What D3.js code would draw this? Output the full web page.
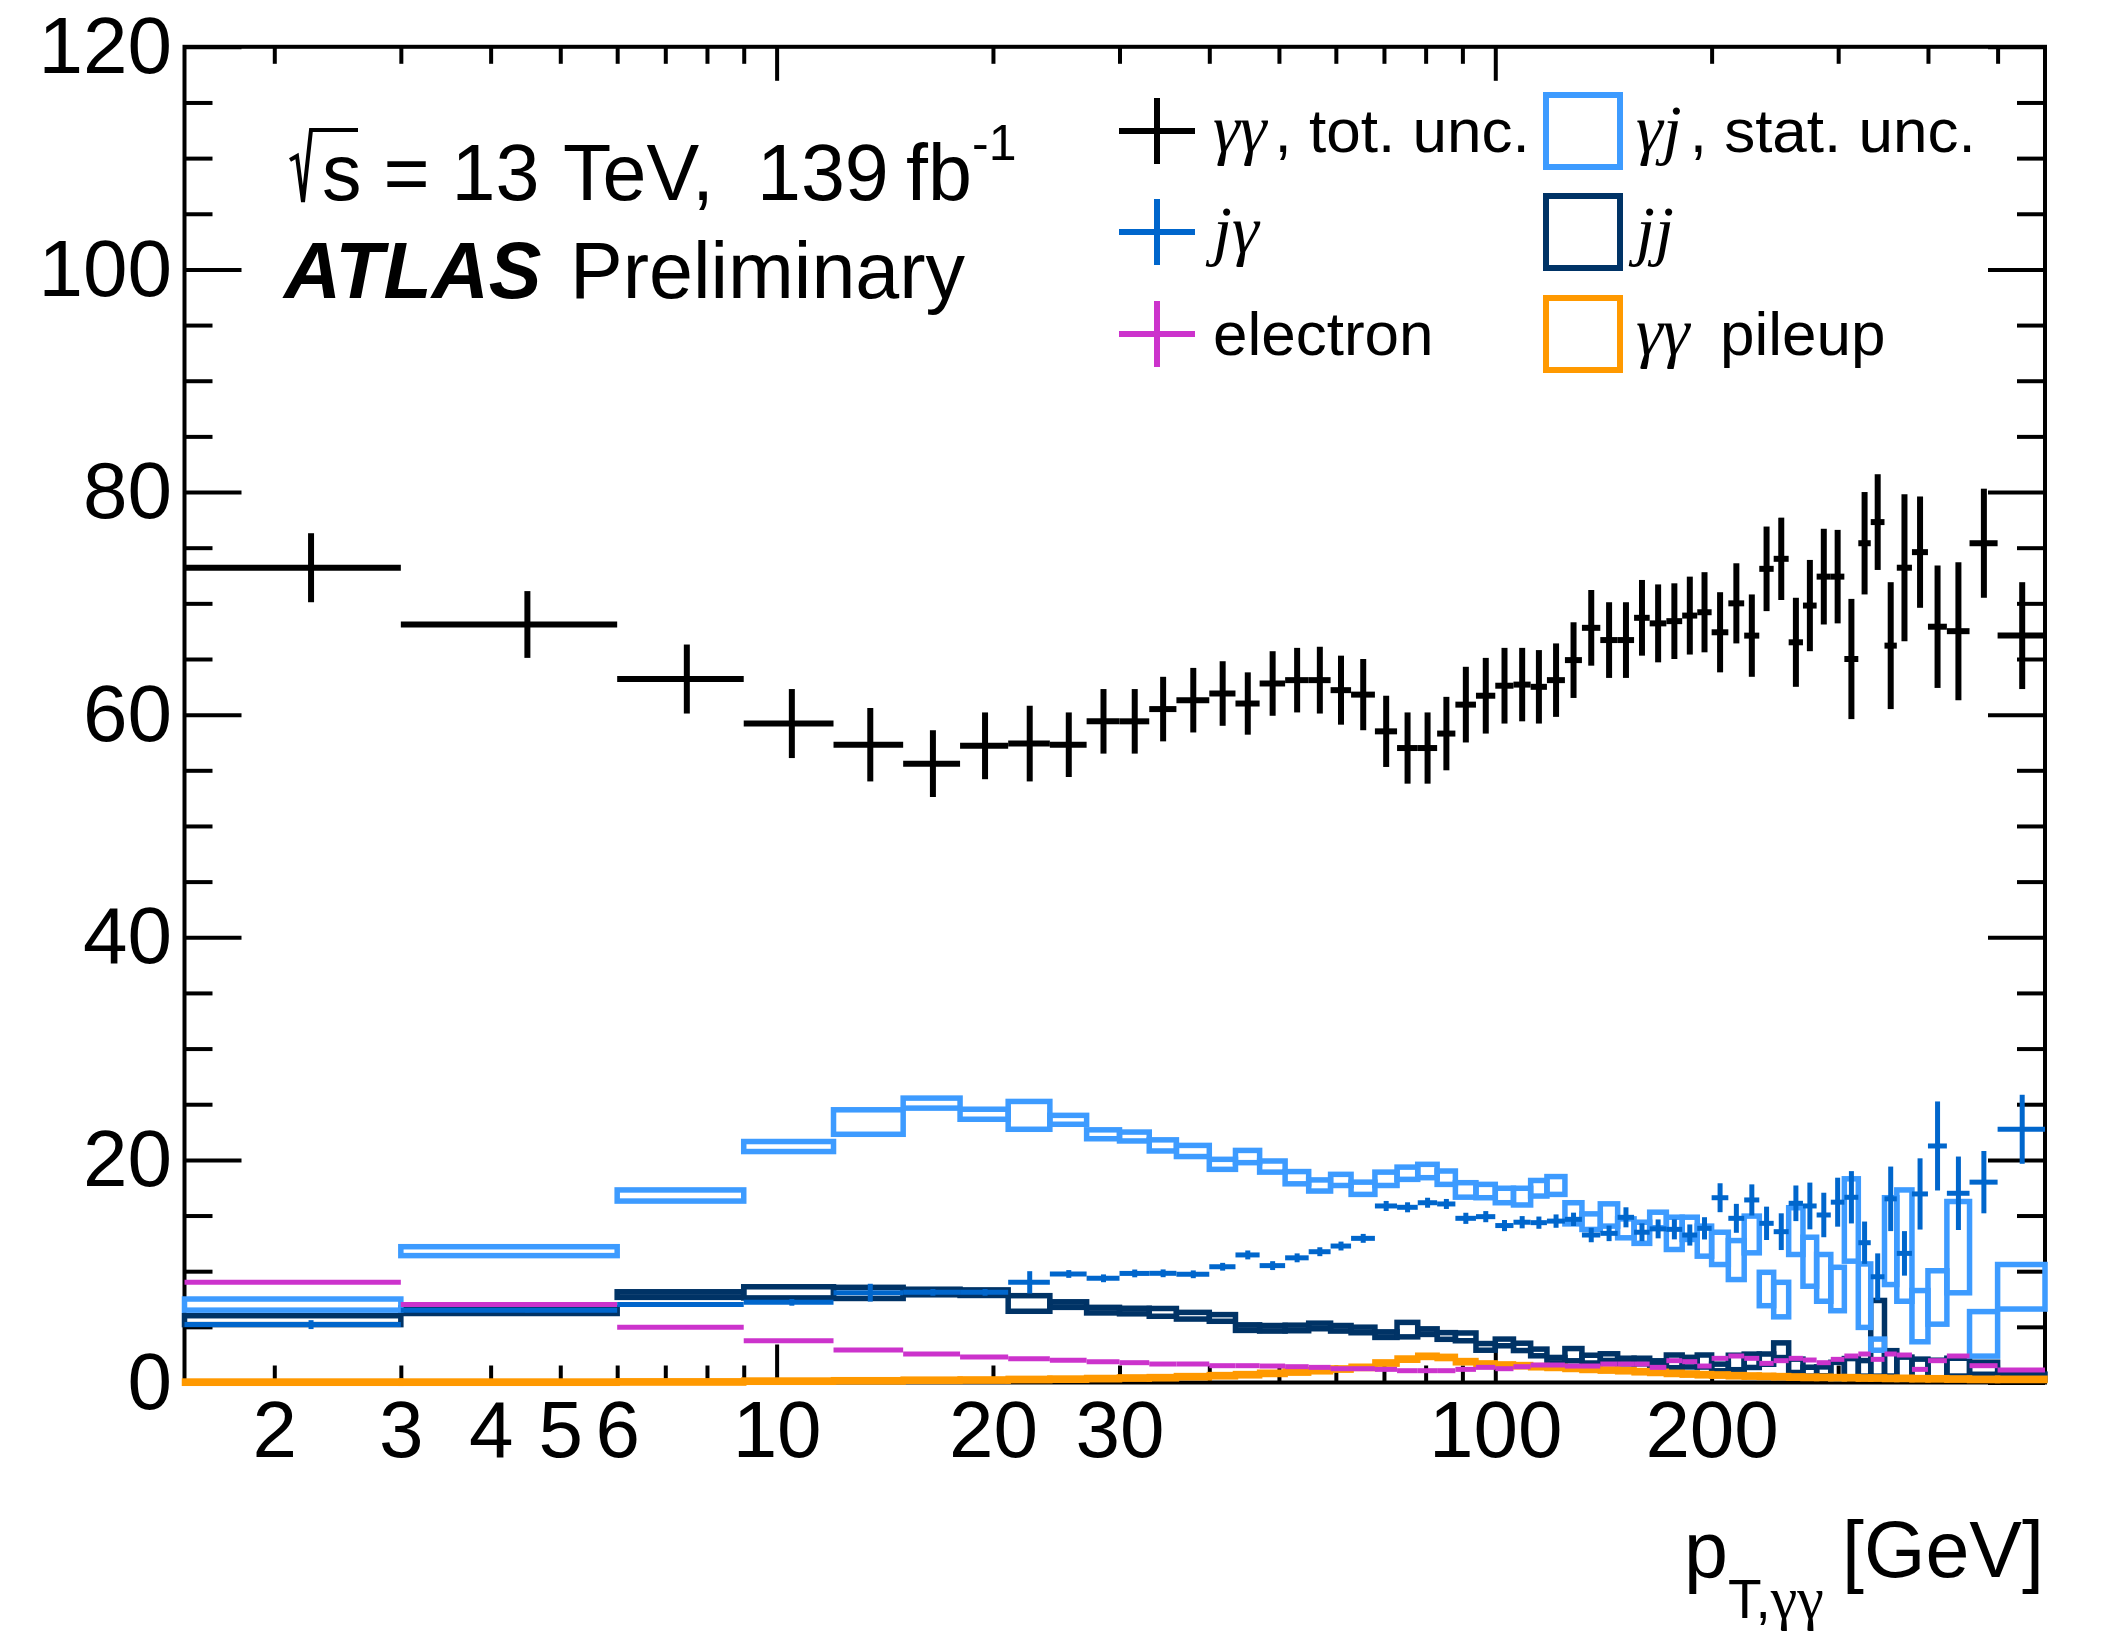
<!DOCTYPE html>
<html><head><meta charset="utf-8">
<script src="https://cdn.jsdelivr.net/npm/d3@7"></script>
<style>
body{margin:0;background:#fff}
text{font-family:"Liberation Sans",Arial,Helvetica,sans-serif;fill:#000}
</style>
</head><body>
<svg id="c" width="2102" height="1632"></svg>
<script>
// ---------------- data ----------------
const binEdges = [1.5,3,6,9,12,15,18,21,24,27,30,33,36,40,43.5,47,51,55,59,63,68,73,78,83,88,94,100,106,112,118,125,132,140,148,156,164,173,182,191,200,211,222,233,244,256,268,280,293,306,320,333,348,362,380,400,425,457,500,582];

// gamma gamma, total uncertainty
const ggVal = [73.2,68.1,63.2,59.2,57.3,55.6,57.2,57.4,57.3,59.4,59.4,60.5,61.3,61.9,61.0,62.8,63.1,63.1,62.2,61.8,58.5,57.0,57.0,58.3,60.9,61.7,62.6,62.7,62.5,63.1,64.9,67.8,66.7,66.7,68.7,68.2,68.4,68.9,69.2,67.4,70.0,67.1,73.1,74.0,66.5,69.8,72.4,72.4,65.0,75.4,77.3,66.2,73.2,74.6,67.9,67.5,75.4,67.1];
const ggErr = [3.1,3.0,3.1,3.1,3.3,3.0,3.0,3.4,2.9,2.9,2.9,2.9,2.9,2.9,2.8,2.9,2.9,3.0,3.1,3.2,3.2,3.2,3.2,3.3,3.4,3.4,3.4,3.3,3.3,3.3,3.4,3.4,3.4,3.4,3.4,3.5,3.4,3.5,3.6,3.6,3.6,3.7,3.8,3.7,4.0,4.1,4.3,4.2,5.4,4.6,4.3,5.7,6.6,5.0,5.5,6.2,4.9,4.8];

// j gamma
const jgVal = [5.2,6.5,7.0,7.2,8.07,8.1,8.1,9.0,9.75,9.36,9.8,9.81,9.72,10.4,11.46,10.5,11.2,11.75,12.26,12.95,15.86,15.74,16.15,16.04,14.75,14.9,14.1,14.4,14.36,14.5,14.66,13.25,13.4,14.84,13.5,13.8,13.76,13.25,13.85,16.6,14.75,16.4,14.3,13.55,16.1,15.86,15.05,16.2,16.64,12.56,9.5,16.5,11.6,16.94,21.25,17.0,18.0,22.75];
const jgErr = [0.4,0.2,0.2,0.3,0.8,0.3,0.3,1.0,0.35,0.35,0.35,0.35,0.35,0.35,0.4,0.4,0.4,0.4,0.4,0.4,0.45,0.45,0.45,0.45,0.5,0.5,0.5,0.55,0.55,0.6,0.6,0.65,0.7,0.9,0.8,0.85,0.9,0.95,1.0,1.3,1.3,1.4,1.5,1.65,1.6,2.1,2.0,2.2,2.35,1.9,2.1,2.9,2.0,3.2,4.0,3.3,2.8,3.1];

// gamma j, stat. unc.
const gjVal = [7.0,11.8,16.8,21.2,23.4,25.1,24.1,24.0,23.6,22.3,22.1,21.3,20.8,19.6,20.3,19.4,18.4,17.7,18.2,17.45,18.3,18.8,19.0,18.4,17.3,17.2,16.8,16.7,17.45,17.7,15.2,14.45,15.05,13.85,13.45,14.6,13.4,13.85,12.7,12.05,11.0,13.3,8.4,7.45,13.6,10.85,9.4,8.4,14.6,7.8,3.4,12.7,12.3,5.96,7.64,12.16,4.37,8.6];
const gjErr = [0.5,0.4,0.5,0.45,1.1,0.45,0.45,1.25,0.4,0.4,0.4,0.5,0.5,0.45,0.55,0.5,0.55,0.5,0.5,0.55,0.6,0.55,0.6,0.6,0.65,0.6,0.65,0.75,0.7,0.8,0.95,0.7,1.0,0.85,0.95,0.7,1.45,1.0,1.35,1.45,1.75,1.65,1.5,1.55,2.1,2.2,2.1,1.95,3.7,2.85,0.5,3.9,5.0,2.3,2.4,4.1,2.0,2.0];

// jj
const jjVal = [5.6,6.45,7.9,8.1,8.05,8.13,8.07,7.1,7.0,6.5,6.42,6.3,6.0,5.8,4.93,4.87,4.9,5.08,4.87,4.72,4.3,4.75,4.57,4.18,4.1,3.2,3.6,3.2,2.7,2.0,2.5,2.1,2.28,1.93,1.93,1.75,1.9,1.83,1.93,1.35,1.8,1.95,2.1,2.9,1.5,0.97,1.0,1.05,1.3,1.27,3.97,1.72,1.28,1.2,1.2,1.38,1.28,0.5];
const jjErr = [0.4,0.25,0.25,0.5,0.5,0.25,0.25,0.7,0.25,0.25,0.25,0.35,0.3,0.3,0.25,0.25,0.25,0.25,0.25,0.25,0.25,0.65,0.25,0.3,0.35,0.3,0.3,0.33,0.3,0.25,0.55,0.35,0.3,0.25,0.25,0.2,0.57,0.43,0.54,0.3,0.65,0.6,0.46,0.66,0.6,0.4,0.4,0.76,0.85,0.7,3.4,1.14,1.0,0.9,0.8,0.8,0.54,0.25];

// electron
const eleVal = [9.0,7.0,4.96,3.76,2.92,2.56,2.29,2.14,2.0,1.87,1.78,1.66,1.66,1.51,1.51,1.48,1.42,1.36,1.24,1.24,1.18,1.06,1.06,1.06,1.18,1.36,1.24,1.42,1.57,1.57,1.48,1.48,1.66,1.66,1.66,1.36,1.96,1.87,1.48,2.17,2.38,2.17,1.72,1.96,2.17,2.02,1.78,2.08,2.38,2.56,2.08,2.56,2.47,1.18,1.96,2.38,1.51,1.12];
const eleErr = [0.05,0.05,0.05,0.05,0.05,0.05,0.05,0.05,0.05,0.05,0.05,0.05,0.05,0.05,0.05,0.05,0.05,0.05,0.05,0.05,0.05,0.05,0.05,0.05,0.05,0.05,0.05,0.05,0.08,0.08,0.08,0.08,0.08,0.08,0.08,0.08,0.1,0.1,0.1,0.1,0.1,0.1,0.12,0.12,0.12,0.12,0.15,0.15,0.15,0.15,0.15,0.15,0.15,0.15,0.15,0.15,0.15,0.15];

// gamma gamma pileup
const puVal = [0.03,0.03,0.05,0.12,0.15,0.2,0.22,0.27,0.3,0.35,0.4,0.43,0.52,0.61,0.7,0.82,0.94,1.06,1.21,1.36,1.75,2.1,2.35,2.25,1.87,1.66,1.57,1.51,1.42,1.36,1.27,1.18,1.12,1.06,0.97,0.91,0.82,0.76,0.7,0.67,0.61,0.58,0.55,0.52,0.49,0.46,0.46,0.43,0.43,0.4,0.4,0.37,0.37,0.34,0.33,0.31,0.28,0.28];
const puErr = [0.1,0.1,0.1,0.1,0.1,0.1,0.1,0.1,0.1,0.1,0.1,0.1,0.1,0.1,0.1,0.1,0.1,0.1,0.1,0.1,0.1,0.1,0.1,0.1,0.1,0.1,0.1,0.1,0.1,0.1,0.1,0.1,0.1,0.1,0.1,0.1,0.1,0.1,0.1,0.1,0.1,0.1,0.1,0.1,0.1,0.1,0.1,0.1,0.1,0.1,0.1,0.1,0.1,0.1,0.1,0.1,0.1,0.1];

const yMajorTicks = [0,20,40,60,80,100,120];
const yMinorTicks = [5,10,15,25,30,35,45,50,55,65,70,75,85,90,95,105,110,115];
const xMajorTicks = [10,100];
const xMinorTicks = [2,3,4,5,6,7,8,9,20,30,40,50,60,70,80,90,200,300,400,500];
const xLabelTicks = [2,3,4,5,6,10,20,30,100,200];

const colors = {gg:"#000000", jg:"#0066cc", gj:"#3d9bff", jj:"#003366", ele:"#cc33cc", pu:"#ff9900"};

// ---------------- drawing ----------------
const W = 2102, H = 1632;
const L = 184.5, R = 2045, T = 46.8, B = 1382.5;
const FONT = '"Liberation Sans",Arial,Helvetica,sans-serif';
const GREEK = '"Liberation Serif","Times New Roman",serif';
const svg = d3.select('#c');
svg.append('rect').attr('width', W).attr('height', H).attr('fill', '#fff');

const x = d3.scaleLog().domain([1.5, 582]).range([L, R]);
const y = d3.scaleLinear().domain([0, 120]).range([B, T]);

const bins = binEdges.slice(0, -1).map((lo, i) => ({lo, hi: binEdges[i + 1], c: (lo + binEdges[i + 1]) / 2, i}));

function styleAxis(g) {
  g.attr('font-family', FONT).attr('font-size', 80);
  g.select('.domain').remove();
  g.selectAll('.tick line').attr('stroke', '#000').attr('stroke-width', 4);
  g.selectAll('.tick text').attr('fill', '#000');
}
// bottom
svg.append('g').attr('transform', `translate(0,${B})`)
  .call(d3.axisBottom(x).tickValues(xMajorTicks).tickSize(-38).tickFormat(''))
  .call(styleAxis);
svg.append('g').attr('transform', `translate(0,${B})`)
  .call(d3.axisBottom(x).tickValues(xMinorTicks).tickSize(-17).tickFormat(''))
  .call(styleAxis);
svg.append('g').attr('transform', `translate(0,${B})`)
  .call(d3.axisBottom(x).tickValues(xLabelTicks).tickSize(0).tickPadding(18).tickFormat(d3.format('d')))
  .call(styleAxis);
// top
svg.append('g').attr('transform', `translate(0,${T})`)
  .call(d3.axisTop(x).tickValues(xMajorTicks).tickSize(-34).tickFormat(''))
  .call(styleAxis);
svg.append('g').attr('transform', `translate(0,${T})`)
  .call(d3.axisTop(x).tickValues(xMinorTicks).tickSize(-17).tickFormat(''))
  .call(styleAxis);
// left
svg.append('g').attr('transform', `translate(${L},0)`)
  .call(d3.axisLeft(y).tickValues(yMajorTicks).tickSize(-57).tickPadding(12.5).tickFormat(d3.format('d')))
  .call(styleAxis);
svg.append('g').attr('transform', `translate(${L},0)`)
  .call(d3.axisLeft(y).tickValues(yMinorTicks).tickSize(-28).tickFormat(''))
  .call(styleAxis);
// right
svg.append('g').attr('transform', `translate(${R},0)`)
  .call(d3.axisRight(y).tickValues(yMajorTicks).tickSize(-57).tickFormat(''))
  .call(styleAxis);
svg.append('g').attr('transform', `translate(${R},0)`)
  .call(d3.axisRight(y).tickValues(yMinorTicks).tickSize(-28).tickFormat(''))
  .call(styleAxis);

// frame
svg.append('rect').attr('x', L).attr('y', T).attr('width', R - L).attr('height', B - T)
  .attr('fill', 'none').attr('stroke', '#000').attr('stroke-width', 4);

// boxes (value +- err)
function drawBoxes(vals, errs, color, sw) {
  svg.append('g').selectAll('rect').data(bins).join('rect')
    .attr('x', d => x(d.lo)).attr('width', d => x(d.hi) - x(d.lo))
    .attr('y', d => y(vals[d.i] + errs[d.i]))
    .attr('height', d => y(vals[d.i] - errs[d.i]) - y(vals[d.i] + errs[d.i]))
    .attr('fill', 'none').attr('stroke', color).attr('stroke-width', sw);
}
// crosses
function drawCrosses(vals, errs, color, sw) {
  const g = svg.append('g').attr('stroke', color).attr('stroke-width', sw);
  g.selectAll('line.h').data(bins).join('line').attr('class', 'h')
    .attr('x1', d => x(d.lo)).attr('x2', d => x(d.hi))
    .attr('y1', d => y(vals[d.i])).attr('y2', d => y(vals[d.i]));
  g.selectAll('line.v').data(bins).join('line').attr('class', 'v')
    .attr('x1', d => x(d.c)).attr('x2', d => x(d.c))
    .attr('y1', d => y(vals[d.i] - errs[d.i])).attr('y2', d => y(vals[d.i] + errs[d.i]));
}

drawBoxes(jjVal, jjErr, colors.jj, 5.5);
drawBoxes(gjVal, gjErr, colors.gj, 5.5);
drawBoxes(puVal, puErr, colors.pu, 5.5);
drawCrosses(eleVal, eleErr, colors.ele, 5);
drawCrosses(jgVal, jgErr, colors.jg, 5);
drawCrosses(ggVal, ggErr, colors.gg, 6);

// ---------------- texts ----------------
// sqrt(s) label
svg.append('path').attr('d', 'M290,160 L297,156 L303,202 L311,130 L358,130')
  .attr('fill', 'none').attr('stroke', '#000').attr('stroke-width', 4).attr('stroke-linejoin', 'miter');
svg.append('text').attr('x', 322).attr('y', 200).attr('font-size', 79).text('s = 13');
svg.append('text').attr('x', 563).attr('y', 200).attr('font-size', 79).text('TeV,');
svg.append('text').attr('x', 757).attr('y', 200).attr('font-size', 79).text('139');
svg.append('text').attr('x', 906).attr('y', 200).attr('font-size', 79).text('fb');
svg.append('text').attr('x', 972).attr('y', 160).attr('font-size', 50).text('-1');

svg.append('text').attr('x', 284).attr('y', 298).attr('font-size', 79)
  .attr('font-weight', 'bold').attr('font-style', 'italic').text('ATLAS');
svg.append('text').attr('x', 570).attr('y', 298).attr('font-size', 79).text('Preliminary');

// legend
const rowsY = [131, 232, 334];
const crossSeries = [colors.gg, colors.jg, colors.ele];
const boxSeries = [colors.gj, colors.jj, colors.pu];
const lg = svg.append('g');
crossSeries.forEach((c, k) => {
  lg.append('line').attr('x1', 1119).attr('x2', 1195).attr('y1', rowsY[k]).attr('y2', rowsY[k])
    .attr('stroke', c).attr('stroke-width', 6);
  lg.append('line').attr('x1', 1157).attr('x2', 1157).attr('y1', rowsY[k] - 33).attr('y2', rowsY[k] + 33)
    .attr('stroke', c).attr('stroke-width', 6);
});
boxSeries.forEach((c, k) => {
  lg.append('rect').attr('x', 1546).attr('y', rowsY[k] - 36).attr('width', 74).attr('height', 72)
    .attr('fill', 'none').attr('stroke', c).attr('stroke-width', 6);
});
const LFS = 62;
function legText(xp, yp) { return lg.append('text').attr('x', xp).attr('y', yp + 21).attr('font-size', LFS); }
function greek(t, s) { return t.append('tspan').attr('font-family', GREEK).attr('font-style', 'italic').attr('font-size', 68).text(s); }
let lt = legText(1213, rowsY[0]);
greek(lt, 'γγ');
lt.append('tspan').attr('dx', 8).text(', tot. unc.');
lt = legText(1213, rowsY[1]);
greek(lt, 'jγ');
lt = legText(1213, rowsY[2]);
lt.append('tspan').text('electron');
lt = legText(1636, rowsY[0]);
greek(lt, 'γj');
lt.append('tspan').attr('dx', 8).text(', stat. unc.');
lt = legText(1636, rowsY[1]);
greek(lt, 'jj');
lt = legText(1636, rowsY[2]);
greek(lt, 'γγ');
lt = legText(1720, rowsY[2]);
lt.append('tspan').text('pileup');

// axis title
svg.append('text').attr('x', 1684).attr('y', 1577).attr('font-size', 79).text('p');
const sub = svg.append('text').attr('x', 1728).attr('y', 1618).attr('font-size', 55);
sub.append('tspan').text('T,');
sub.append('tspan').attr('font-family', GREEK).attr('font-size', 60).text('γγ');
svg.append('text').attr('x', 2044).attr('y', 1577).attr('font-size', 79).attr('text-anchor', 'end').text('[GeV]');
</script>
</body></html>
